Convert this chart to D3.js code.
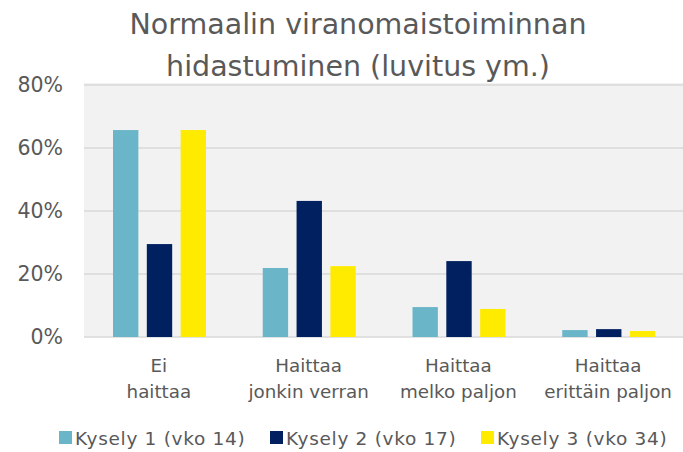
<!DOCTYPE html>
<html>
<head>
<meta charset="utf-8">
<script src="https://cdn.jsdelivr.net/npm/d3@7"></script>
<style>
  body { margin: 0; background: #fff; }
  svg text { font-family: "DejaVu Sans", sans-serif; fill: #595959; }
</style>
</head>
<body>
<div id="chart"></div>
<script>
// categories (two-line labels) and series
const categories = ["Ei|haittaa", "Haittaa|jonkin verran", "Haittaa|melko paljon", "Haittaa|erittäin paljon"];
const seriesNames = ["Kysely 1 (vko 14)", "Kysely 2 (vko 17)", "Kysely 3 (vko 34)"];
const kysely1 = [0.657, 0.219, 0.095, 0.022];
const kysely2 = [0.295, 0.432, 0.241, 0.025];
const kysely3 = [0.657, 0.225, 0.089, 0.019];
const yTicks = [0, 0.2, 0.4, 0.6, 0.8];
const titleLines = ["Normaalin viranomaistoiminnan", "hidastuminen (luvitus ym.)"];

const colors = ["#6bb5c9", "#002060", "#ffeb00"];
const allSeries = [kysely1, kysely2, kysely3];

const width = 683, height = 452;
const margin = { top: 85, right: 0, bottom: 115, left: 84 };
const plotW = width - margin.left - margin.right;
const plotH = height - margin.top - margin.bottom;

const svg = d3.select("#chart").append("svg")
  .attr("width", width)
  .attr("height", height);

// title
svg.selectAll(".title")
  .data(titleLines)
  .enter()
  .append("text")
  .attr("class", "title")
  .attr("x", 358)
  .attr("y", (d, i) => 34 + i * 42)
  .attr("text-anchor", "middle")
  .style("font-size", "28.5px")
  .text(d => d);

const g = svg.append("g")
  .attr("transform", "translate(" + margin.left + "," + margin.top + ")");

const x0 = d3.scaleBand().domain(categories).range([0, plotW]);
const x1 = d3.scaleBand().domain(d3.range(3)).range([29, 122]).paddingInner(0.25);
const y = d3.scaleLinear().domain([0, 0.8]).range([plotH, 0]);

// plot background
g.append("rect")
  .attr("x", 0).attr("y", -2)
  .attr("width", plotW).attr("height", plotH + 2)
  .attr("fill", "#f2f2f2");

// gridlines
g.selectAll(".grid")
  .data(yTicks)
  .enter()
  .append("line")
  .attr("x1", 0).attr("x2", plotW)
  .attr("y1", d => y(d)).attr("y2", d => y(d))
  .attr("stroke", "#d9d9d9")
  .attr("stroke-width", 1.5);

// y axis labels
const yAxis = d3.axisLeft(y).tickValues(yTicks).tickFormat(d3.format(".0%")).tickSize(0).tickPadding(21);
g.append("g").call(yAxis)
  .call(a => a.select(".domain").remove())
  .selectAll("text")
  .style("font-size", "20.5px")
  .attr("fill", "#595959");

// bars
const groups = g.selectAll(".grp")
  .data(categories)
  .enter()
  .append("g")
  .attr("transform", d => "translate(" + x0(d) + ",0)");

groups.selectAll("rect")
  .data((d, ci) => allSeries.map((s, si) => ({ si: si, v: s[ci] })))
  .enter()
  .append("rect")
  .attr("x", d => x1(d.si))
  .attr("width", x1.bandwidth())
  .attr("y", d => y(d.v))
  .attr("height", d => y(0) - y(d.v))
  .attr("fill", d => colors[d.si]);

// category labels
groups.append("text")
  .attr("text-anchor", "middle")
  .style("font-size", "18.3px")
  .selectAll("tspan")
  .data(d => d.split("|"))
  .enter()
  .append("tspan")
  .attr("x", x0.bandwidth() / 2)
  .attr("y", (d, i) => plotH + 35 + i * 26)
  .text(d => d);

// legend
const legendX = [59, 270, 481];
const legend = svg.selectAll(".legend")
  .data(seriesNames)
  .enter()
  .append("g")
  .attr("transform", (d, i) => "translate(" + legendX[i] + ",431)");

legend.append("rect")
  .attr("width", 13).attr("height", 13)
  .attr("fill", (d, i) => colors[i]);

legend.append("text")
  .attr("x", 16)
  .attr("y", 14)
  .style("font-size", "18.5px")
  .style("letter-spacing", "0.7px")
  .text(d => d);
</script>
</body>
</html>
